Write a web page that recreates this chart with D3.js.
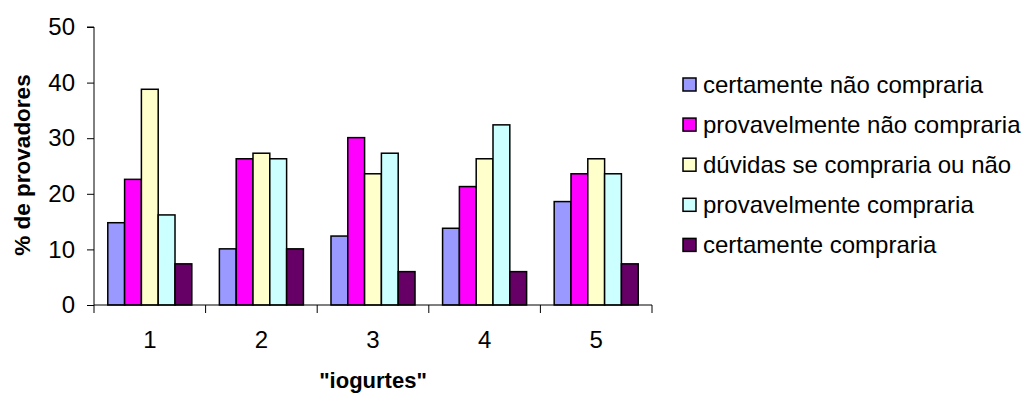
<!DOCTYPE html>
<html><head><meta charset="utf-8">
<script src="https://cdn.jsdelivr.net/npm/d3@7"></script>
<style>body{margin:0;background:#fff}svg{display:block}text{font-family:"Liberation Sans",Arial,sans-serif;fill:#000}</style>
</head><body>
<svg id="c" width="1021" height="396"></svg>
<script>
const categories = ["1","2","3","4","5"];
const seriesNames = ["certamente não compraria","provavelmente não compraria","dúvidas se compraria ou não","provavelmente compraria","certamente compraria"];
const certNao = [14.8, 10.1, 12.4, 13.8, 18.6];
const provNao = [22.6, 26.3, 30.1, 21.3, 23.6];
const duvidas = [38.8, 27.3, 23.6, 26.3, 26.3];
const provSim = [16.2, 26.3, 27.3, 32.4, 23.6];
const certSim = [7.4, 10.1, 6.0, 6.0, 7.4];
const yTicks = [0,10,20,30,40,50];
const colors = ["#9999FF","#FF00FF","#FFFFCC","#CCFFFF","#660066"];
const seriesValues = [certNao, provNao, duvidas, provSim, certSim];

const svg = d3.select("#c");
const pLeft = 94, pRight = 652, pTop = 27, pBottom = 305;
const y = d3.scaleLinear().domain([0,50]).range([pBottom, pTop]);
const x0 = d3.scaleBand().domain(categories).range([pLeft, pRight]).padding(0);
const x1 = d3.scaleBand().domain(d3.range(seriesNames.length)).range([0, x0.bandwidth()]).paddingInner(0).paddingOuter(0.82);

// bars
categories.forEach((c, ci) => {
  seriesValues.forEach((vals, si) => {
    svg.append("rect")
      .attr("x", x0(c) + x1(si))
      .attr("y", y(vals[ci]))
      .attr("width", x1.bandwidth())
      .attr("height", y(0) - y(vals[ci]))
      .attr("fill", colors[si])
      .attr("stroke", "#000").attr("stroke-width", 1.5);
  });
});

// y axis
const yAxis = svg.append("g").attr("transform", `translate(${pLeft},0)`)
  .call(d3.axisLeft(y).tickValues(yTicks).tickSize(7).tickPadding(12).tickFormat(d3.format("d")));
yAxis.select(".domain").attr("stroke","#000").attr("d", `M-7,${pTop}H0V${pBottom}`);
yAxis.selectAll(".tick line").attr("stroke","#000");
yAxis.selectAll("text").attr("font-size", 24).attr("fill","#000").attr("font-family","Liberation Sans, Arial, sans-serif");

// x axis
const g = svg.append("g");
g.append("line").attr("x1", pLeft).attr("x2", pRight).attr("y1", pBottom).attr("y2", pBottom).attr("stroke","#000");
const bounds = categories.map(c => x0(c)).concat([pRight]);
g.selectAll("line.t").data(bounds).enter().append("line")
  .attr("x1", d => d).attr("x2", d => d).attr("y1", pBottom).attr("y2", pBottom + 8).attr("stroke","#000");
const xAxis = svg.append("g").attr("transform", `translate(0,${pBottom})`)
  .call(d3.axisBottom(x0).tickSize(0).tickPadding(26));
xAxis.select(".domain").remove();
xAxis.selectAll("text").attr("font-size", 24).attr("fill","#000").attr("font-family","Liberation Sans, Arial, sans-serif");

// titles
svg.append("text").attr("x", 373).attr("y", 388).attr("text-anchor","middle")
  .attr("font-size", 22).attr("font-weight","bold").text('"iogurtes"');
svg.append("text").attr("transform", "translate(30,165) rotate(-90)").attr("text-anchor","middle")
  .attr("font-size", 22.5).attr("font-weight","bold").text("% de provadores");

// legend
const lg = svg.append("g");
seriesNames.forEach((n, i) => {
  const cy = 84.5 + i * 40.1;
  lg.append("rect").attr("x", 683).attr("y", cy - 6.5).attr("width", 13).attr("height", 13)
    .attr("fill", colors[i]).attr("stroke","#000").attr("stroke-width",1.5);
  lg.append("text").attr("x", 703).attr("y", cy).attr("dy","0.35em").attr("font-size", 24).text(n);
});
</script>
</body></html>
